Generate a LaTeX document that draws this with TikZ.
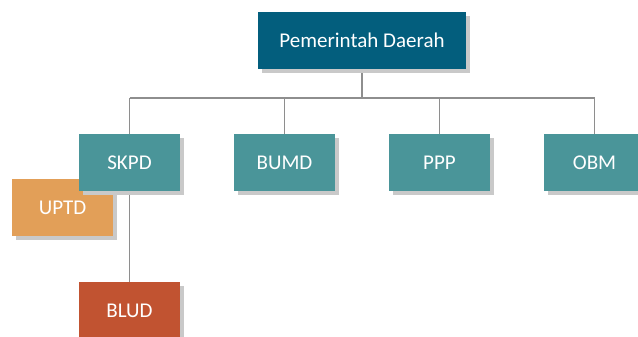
\documentclass[tikz,border=0pt]{standalone}
\usepackage{fontspec}
\setmainfont{Carlito}
\usetikzlibrary{positioning,shadows,backgrounds}

\definecolor{pemdablue}{HTML}{035E7D}
\definecolor{unitteal}{HTML}{4A9599}
\definecolor{uptdorange}{HTML}{E29F58}
\definecolor{bludred}{HTML}{C15331}
\definecolor{linegray}{HTML}{8E8E8E}
\definecolor{shadowgray}{HTML}{C9C9C9}

\tikzset{
  box/.style={minimum width=101pt,minimum height=57pt,inner sep=0pt,
    text=white,font=\fontsize{21}{24}\selectfont,
    drop shadow={shadow xshift=4pt,shadow yshift=-4pt,fill=shadowgray,opacity=1}},
  unit/.style={box,fill=unitteal},
  conn/.style={draw=linegray,line width=1.8pt}
}

\begin{document}
\begin{tikzpicture}[x=1pt,y=1pt]
\useasboundingbox (0,0) rectangle (638,337);

% ============================================================
% 1. TOP LEVEL
% ============================================================
\node[box,fill=pemdablue,minimum width=208pt] (pemda) at (362,296.5) {Pemerintah Daerah};

% ============================================================
% 2. SECOND LEVEL
% ============================================================
\node[box,fill=uptdorange] (uptd) at (62.5,129) {UPTD};
\node[unit] (skpd) at (129.5,174.5) {SKPD};
\node[unit] (bumd) at (284.5,174.5) {BUMD};
\node[unit] (ppp)  at (439.5,174.5) {PPP};
\node[unit] (obm)  at (594.5,174.5) {OBM};

% ============================================================
% 3. THIRD LEVEL
% ============================================================
\node[box,fill=bludred] (blud) at (129.5,26.5) {BLUD};

% Connectors
\begin{scope}[on background layer]
  \draw[conn] (pemda.south) -- ++(0,-29) coordinate (bus);
  \draw[conn] (skpd.north |- bus) -- (obm.north |- bus);
  \foreach \n in {skpd,bumd,ppp,obm}{
    \draw[conn] (\n.north |- bus) -- (\n.north);
  }
  \draw[conn] (skpd.south) -- (blud.north);
\end{scope}

\end{tikzpicture}
\end{document}
